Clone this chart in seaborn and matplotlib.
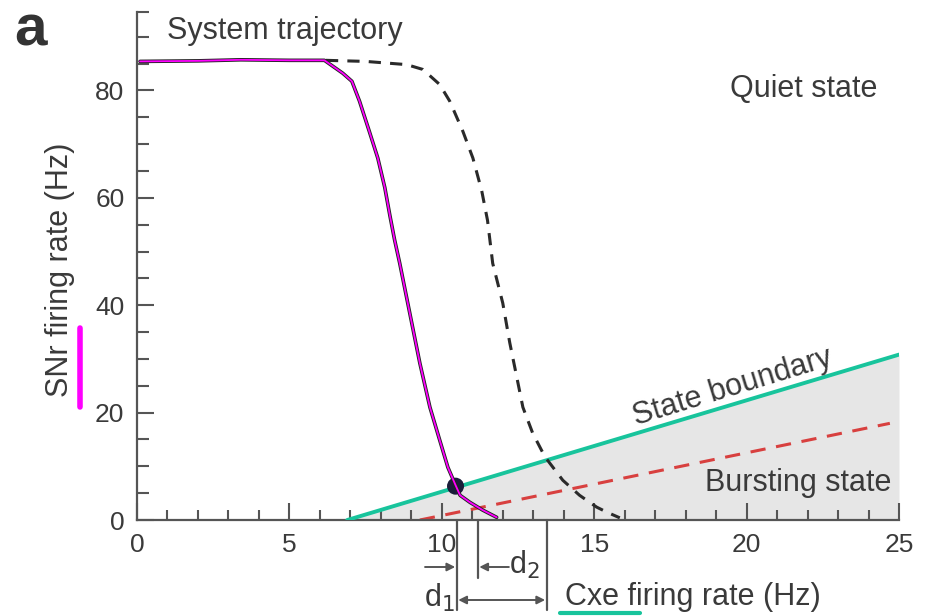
import numpy as np
import pandas as pd
import matplotlib
matplotlib.use("Agg")
import matplotlib.pyplot as plt
import seaborn as sns

# ---- data ----
solid_x = [0.1, 2.0, 3.4, 5.0, 6.15, 6.75, 7.05, 7.3, 7.62, 7.9, 8.13, 8.3, 8.45,
           8.62, 8.95, 9.28, 9.61, 9.93, 10.2, 10.45, 10.6, 10.92, 11.34, 11.8]
solid_y = [85.4, 85.5, 85.7, 85.6, 85.6, 83.2, 81.7, 78.0, 72.4, 67.4, 61.9, 56.6, 52.2,
           47.8, 38.5, 29.2, 21.0, 14.9, 9.8, 6.5, 4.6, 3.3, 1.85, 0.5]

dashed_x = [6.2, 7.5, 8.85, 9.38, 9.93, 10.26, 10.69, 11.02, 11.31, 11.5, 11.67, 12.0,
            12.23, 12.46, 12.66, 12.98, 13.38, 13.97, 14.52, 15.08, 15.4, 15.84]
dashed_y = [85.6, 85.4, 84.8, 83.9, 81.1, 78.0, 72.4, 67.4, 61.3, 55.8, 47.8, 40.4,
            33.0, 26.6, 21.0, 16.2, 11.8, 7.4, 4.6, 2.4, 1.5, 0.4]

boundary_x = [6.9, 25.0]
boundary_y = [0.0, 30.8]

inner_x = [9.28, 24.7]
inner_y = [0.0, 18.0]

crossing_x = 10.45
crossing_y = 6.3

d1_x = 10.49
d2_x = 11.18
dend_x = 13.44

xticks_major = [0, 5, 10, 15, 20, 25]
yticks_major = [0, 20, 40, 60, 80]

sns.set_style("white")
plt.rcParams['font.family'] = ['Liberation Sans', 'DejaVu Sans']

fig = plt.figure(figsize=(9.27, 6.16), dpi=100)
ax = fig.add_axes([137/927, (616-520)/616, 762/927, 508/616])

grey = "#555555"
txt = "#3a3a3a"
FS = 22

# grey bursting region
bx = np.array(boundary_x)
by = np.array(boundary_y)
ax.fill_between(bx, 0, by, color="#e6e6e6", lw=0, zorder=0)

df_s = pd.DataFrame({"x": solid_x, "y": solid_y})
df_d = pd.DataFrame({"x": dashed_x, "y": dashed_y})
df_b = pd.DataFrame({"x": boundary_x, "y": boundary_y})
df_i = pd.DataFrame({"x": inner_x, "y": inner_y})

sns.lineplot(data=df_i, x="x", y="y", ax=ax, color="#d8403f", lw=2.2,
             linestyle=(0, (5, 3.5)), sort=False, zorder=2)
sns.lineplot(data=df_b, x="x", y="y", ax=ax, color="#e05050", lw=1.0, sort=False, zorder=2)
sns.lineplot(data=df_b, x="x", y="y", ax=ax, color="#18c49c", lw=2.8, sort=False, zorder=3)
sns.lineplot(data=df_d, x="x", y="y", ax=ax, color="#2a2a2a", lw=2.2,
             linestyle=(0, (4, 3)), sort=False, zorder=4)
sns.lineplot(data=df_s, x="x", y="y", ax=ax, color="#222222", lw=2.6, sort=False, zorder=4)
sns.lineplot(data=df_s, x="x", y="y", ax=ax, color="#ff00ff", lw=1.3, sort=False, zorder=5)
ax.scatter([crossing_x], [crossing_y], s=150, color="#1b1d3a", zorder=3.5, edgecolor="none")

ax.set_xlim(0, 25)
ax.set_ylim(0, 94.6)
ax.set_xticks(xticks_major)
ax.set_yticks(yticks_major)
ax.set_xticks(np.arange(0, 26, 1), minor=True)
ax.set_yticks(list(np.arange(0, 95, 5)) + [94.6], minor=True)
ax.tick_params(bottom=True, left=True, which="both")
ax.tick_params(axis="both", which="major", direction="in", length=12, width=1.5,
               color=grey, labelsize=19, labelcolor=txt)
ax.tick_params(axis="x", which="major", pad=9)
ax.tick_params(axis="y", which="major", pad=9)
ax.tick_params(axis="x", which="minor", direction="in", length=7, width=1.5, color=grey)
ax.tick_params(axis="y", which="minor", direction="in", length=8.5, width=1.5, color=grey)

for s in ["top", "right"]:
    ax.spines[s].set_visible(False)
for s in ["left", "bottom"]:
    ax.spines[s].set_color(grey)
    ax.spines[s].set_linewidth(1.6)

ax.set_xlabel("")
ax.set_ylabel("SNr firing rate (Hz)", fontsize=FS, color=txt)
ax.yaxis.set_label_coords((75 - 137) / 762, (520 - 270) / 508)

# texts
ax.text(1.0, 91.0, "System trajectory", fontsize=FS, color=txt, va="center", ha="left")
ax.text(19.45, 80.2, "Quiet state", fontsize=FS, color=txt, va="center", ha="left")
ax.text(24.75, 6.9, "Bursting state", fontsize=FS, color=txt, va="center", ha="right")
ax.text(19.55, 24.6, "State boundary", fontsize=FS, color=txt, va="center", ha="center",
        rotation=17, rotation_mode="anchor")

fig.text(14/927, 1 - 31/616, "a", fontsize=42, fontweight="bold", color="#333333",
         va="center", ha="left")

# annotations below axis
tr = ax.get_xaxis_transform()
def fy(py):
    return (520 - py) / 508

for xv, py in [(d1_x, 610), (d2_x, 578), (dend_x, 610)]:
    ax.plot([xv, xv], [0, fy(py)], transform=tr, color=grey, lw=1.6, clip_on=False)

arr = dict(arrowstyle="-|>", color=grey, lw=1.4, mutation_scale=12, shrinkA=0, shrinkB=0)
ax.annotate("", xy=(d1_x - 0.05, fy(567)), xytext=(9.45, fy(567)), xycoords=tr,
            textcoords=tr, arrowprops=arr, annotation_clip=False)
ax.annotate("", xy=(d2_x + 0.05, fy(567)), xytext=(12.2, fy(567)), xycoords=tr,
            textcoords=tr, arrowprops=arr, annotation_clip=False)
ax.annotate("", xy=(dend_x - 0.05, fy(600)), xytext=(d1_x + 0.05, fy(600)), xycoords=tr,
            textcoords=tr, arrowprops=dict(arrowstyle="<|-|>", color=grey, lw=1.4,
                                           mutation_scale=12, shrinkA=0, shrinkB=0),
            annotation_clip=False)
ax.text(12.2, fy(565), r"d$_2$", transform=tr, fontsize=FS, color=txt, va="center", ha="left")
ax.text(9.4, fy(598), r"d$_1$", transform=tr, fontsize=FS, color=txt, va="center", ha="left")
ax.text(14.05, fy(597), "Cxe firing rate (Hz)", transform=tr, fontsize=FS, color=txt,
        va="center", ha="left")

# overlay marks
fig.add_artist(plt.Line2D([560/927, 640/927], [1 - 613/616, 1 - 613/616],
                          color="#18c49c", lw=3))
fig.add_artist(plt.Line2D([80/927, 80/927], [1 - 328/616, 1 - 407/616],
                          color="#ff00ff", lw=4))

fig.savefig("out.png", dpi=100)
